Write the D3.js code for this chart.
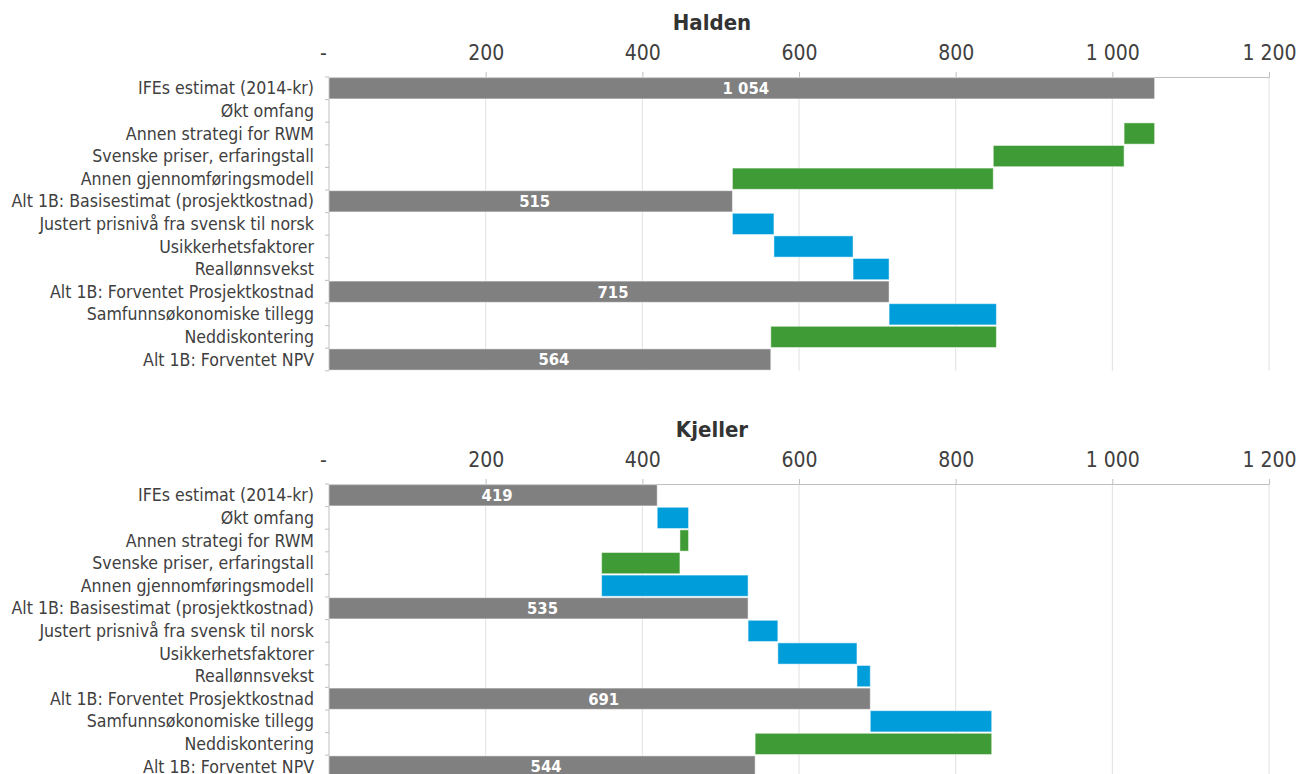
<!DOCTYPE html>
<html>
<head>
<meta charset="utf-8">
<script src="https://cdn.jsdelivr.net/npm/d3@7"></script>
<style>
  body { margin: 0; background: #fff; }
  text { font-family: "DejaVu Sans Condensed", "DejaVu Sans", sans-serif; }
</style>
</head>
<body>
<svg id="chart" width="1299" height="774"></svg>
<script>
// categories (same for both panels)
const categories = [
    "IFEs estimat (2014-kr)",
    "Økt omfang",
    "Annen strategi for RWM",
    "Svenske priser, erfaringstall",
    "Annen gjennomføringsmodell",
    "Alt 1B: Basisestimat (prosjektkostnad)",
    "Justert prisnivå fra svensk til norsk",
    "Usikkerhetsfaktorer",
    "Reallønnsvekst",
    "Alt 1B: Forventet Prosjektkostnad",
    "Samfunnsøkonomiske tillegg",
    "Neddiskontering",
    "Alt 1B: Forventet NPV"
];
// which rows are totals (grey bars), the rest are steps
const isTotal = [true, false, false, false, false, true, false, false, false, true, false, false, true];

// values: totals are the level, steps are the change
const haldenValues = [1054, 0, -39, -167, -333, 515, 53, 101, 46, 715, 137, -288, 564];
const kjellerValues = [419, 40, -11, -100, 187, 535, 38, 101, 17, 691, 155, -302, 544];

const tickValues = [0, 200, 400, 600, 800, 1000, 1200];

const colors = { total: "#808080", up: "#009ddb", down: "#3f9b35" };

const svg = d3.select("#chart");

const x = d3.scaleLinear()
    .domain([0, 1200])
    .range([329, 1269]);

const fmt = v => v === 0 ? "-" : d3.format(",")(v).replace(/,/g, " ");

// turn values into [start, end] spans
function waterfall(values) {
    let level = 0;
    return values.map((v, i) => {
        if (isTotal[i]) {
            level = v;
            return { cat: categories[i], x0: 0, x1: v, type: "total", value: v };
        }
        const start = level;
        level += v;
        return {
            cat: categories[i],
            x0: Math.min(start, level),
            x1: Math.max(start, level),
            type: v >= 0 ? "up" : "down",
            value: v
        };
    });
}

function panel(title, values, top) {
    const rowH = 22.6;
    const y = d3.scaleBand()
        .domain(categories)
        .range([top, top + rowH * categories.length])
        .paddingInner(0.06)
        .paddingOuter(0.03);

    const g = svg.append("g");
    const bottom = top + rowH * categories.length;

    // title
    g.append("text")
        .attr("x", 712)
        .attr("y", top - 47)
        .attr("text-anchor", "middle")
        .attr("font-size", 22)
        .attr("font-weight", "bold")
        .attr("fill", "#333")
        .text(title);

    // gridlines
    g.append("g")
        .selectAll("line")
        .data(tickValues.slice(1))
        .join("line")
        .attr("x1", d => x(d)).attr("x2", d => x(d))
        .attr("y1", top).attr("y2", bottom)
        .attr("stroke", "#e0e0e0");

    // top axis
    const gx = g.append("g")
        .attr("transform", `translate(0,${top})`)
        .call(d3.axisTop(x).tickValues(tickValues).tickFormat(fmt).tickSize(5).tickSizeOuter(0).tickPadding(12));
    gx.select(".domain").attr("stroke", "#bfbfbf");
    gx.selectAll(".tick line").attr("stroke", "#bfbfbf");
    gx.selectAll(".tick text")
        .attr("font-size", 21)
        .attr("fill", "#404040")
        .attr("font-family", "DejaVu Sans Condensed, DejaVu Sans, sans-serif")
        .attr("dx", d => d === 0 ? -6 : 0);
    gx.selectAll(".tick").filter(d => d === 0).select("line").remove();

    // left axis with row ticks
    const rowEdges = d3.range(categories.length + 1).map(i => top + i * rowH);
    g.append("line")
        .attr("x1", x(0)).attr("x2", x(0))
        .attr("y1", top).attr("y2", bottom)
        .attr("stroke", "#bfbfbf");
    g.append("g")
        .selectAll("line")
        .data(rowEdges)
        .join("line")
        .attr("x1", x(0) - 4).attr("x2", x(0))
        .attr("y1", d => d).attr("y2", d => d)
        .attr("stroke", "#bfbfbf");

    // category labels
    g.append("g")
        .selectAll("text")
        .data(categories)
        .join("text")
        .attr("x", 314)
        .attr("y", d => y(d) + y.bandwidth() / 2)
        .attr("dy", "0.35em")
        .attr("text-anchor", "end")
        .attr("font-size", 17.6)
        .attr("fill", "#404040")
        .text(d => d);

    const data = waterfall(values);

    // bars
    g.append("g")
        .selectAll("rect")
        .data(data.filter(d => d.x1 > d.x0))
        .join("rect")
        .attr("x", d => x(d.x0))
        .attr("y", d => y(d.cat))
        .attr("width", d => x(d.x1) - x(d.x0))
        .attr("height", y.bandwidth())
        .attr("fill", d => colors[d.type])
        .attr("stroke", "#ffffff")
        .attr("stroke-opacity", 0.5)
        .attr("stroke-width", 1);

    // total labels
    g.append("g")
        .selectAll("text")
        .data(data.filter(d => d.type === "total"))
        .join("text")
        .attr("x", d => (x(d.x0) + x(d.x1)) / 2 + 4)
        .attr("y", d => y(d.cat) + y.bandwidth() / 2)
        .attr("dy", "0.36em")
        .attr("text-anchor", "middle")
        .attr("font-size", 16.5)
        .attr("font-weight", "bold")
        .attr("fill", "#fff")
        .text(d => fmt(d.value));
}

panel("Halden", haldenValues, 77);
panel("Kjeller", kjellerValues, 484);
</script>
</body>
</html>
